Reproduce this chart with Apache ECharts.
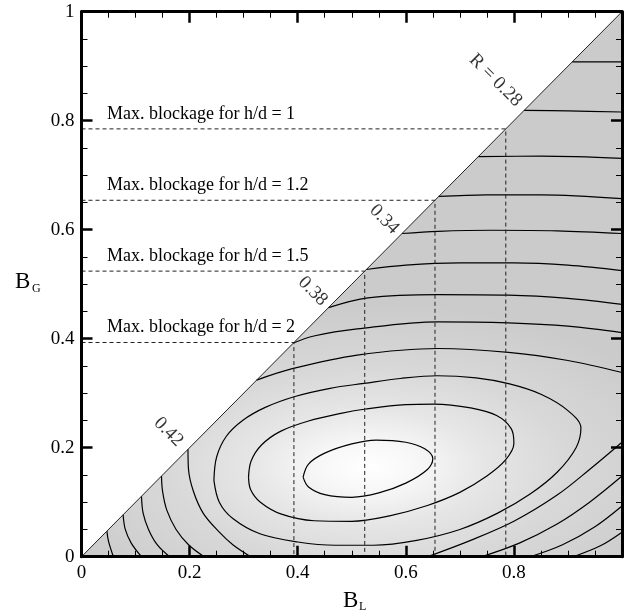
<!DOCTYPE html>
<html>
<head>
<meta charset="utf-8">
<script src="https://cdn.jsdelivr.net/npm/echarts@6/dist/echarts.min.js"></script>
<style>
html, body { margin: 0; padding: 0; background: #fff; }
#chart { width: 625px; height: 610px; }
</style>
</head>
<body>
<div id="chart"></div>
<script>
// Police serif (style Times) comme sur la figure d'origine
const FONT = "'Liberation Serif', 'Times New Roman', serif";

// Blocage maximal pour chaque h/d
const blockageRatios = ['1', '1.2', '1.5', '2'];
const maxBlockage = [0.785, 0.654, 0.524, 0.393];

// Lignes de contour de R, points [B_L, B_G]
const contour026 = [[0.908, 0.908], [1, 0.908]];
const contour028 = [[0.819, 0.819], [0.9, 0.818], [1, 0.816]];
const contour030 = [[0.734, 0.734], [0.85, 0.735], [1, 0.731]];
const contour032 = [[0.661, 0.661], [0.75, 0.664], [0.85, 0.664], [1, 0.657]];
const contour034 = [[0.593, 0.593], [0.66, 0.597], [0.76, 0.599], [0.88, 0.598], [1, 0.593]];
const contour036 = [[0.527, 0.527], [0.6, 0.535], [0.7, 0.539], [0.8, 0.539], [0.9, 0.535], [1, 0.525]];
const contour038 = [[0.457, 0.457], [0.53, 0.475], [0.66, 0.481], [0.79, 0.48], [0.9, 0.474], [1, 0.463]];
const contour040 = [[0.392, 0.392], [0.43, 0.405], [0.51, 0.418], [0.66, 0.431], [0.79, 0.429], [0.9, 0.423], [1, 0.411]];
const contour042 = [[0.324, 0.324], [0.39, 0.345], [0.51, 0.37], [0.66, 0.382], [0.79, 0.375], [0.9, 0.36], [1, 0.338]];
// Coin inférieur gauche (près de l'origine)
const corner034 = [[0.047, 0.047], [0.05, 0.028], [0.059, 0]];
const corner036 = [[0.077, 0.077], [0.081, 0.05], [0.092, 0.025], [0.111, 0]];
const corner038 = [[0.111, 0.111], [0.114, 0.08], [0.124, 0.05], [0.14, 0.022], [0.163, 0]];
const corner040 = [[0.148, 0.148], [0.15, 0.12], [0.158, 0.085], [0.175, 0.05], [0.198, 0.022], [0.227, 0]];
const corner042 = [[0.197, 0.197], [0.198, 0.16], [0.207, 0.12], [0.225, 0.08], [0.255, 0.045], [0.28, 0.022], [0.313, 0]];
// Coin inférieur droit
const right042 = [[0.64, 0], [0.72, 0.03], [0.8, 0.065], [0.88, 0.113], [0.94, 0.16], [1, 0.21]];
const right040 = [[0.74, 0], [0.81, 0.025], [0.88, 0.06], [0.94, 0.1], [1, 0.148]];
const right038 = [[0.83, 0], [0.89, 0.022], [0.95, 0.055], [1, 0.093]];
const right036 = [[0.91, 0], [0.96, 0.02], [1, 0.045]];
// Contours fermés autour du maximum
const ellipse044 = [[0.245, 0.14], [0.25, 0.183], [0.268, 0.221], [0.298, 0.25], [0.34, 0.274], [0.395, 0.294],
  [0.46, 0.309], [0.523, 0.318], [0.59, 0.327], [0.658, 0.332], [0.73, 0.328], [0.792, 0.317], [0.85, 0.298],
  [0.9, 0.268], [0.924, 0.236], [0.915, 0.2], [0.88, 0.155], [0.83, 0.115], [0.77, 0.08], [0.7, 0.05],
  [0.62, 0.03], [0.54, 0.021], [0.47, 0.021], [0.4, 0.027], [0.33, 0.042], [0.28, 0.07], [0.255, 0.1], [0.245, 0.14]];
const ellipse046 = [[0.309, 0.146], [0.314, 0.176], [0.333, 0.205], [0.368, 0.23], [0.42, 0.249], [0.48, 0.263],
  [0.526, 0.271], [0.6, 0.279], [0.652, 0.28], [0.72, 0.273], [0.768, 0.259], [0.795, 0.235], [0.8, 0.208],
  [0.785, 0.178], [0.75, 0.148], [0.7, 0.118], [0.64, 0.094], [0.57, 0.075], [0.5, 0.065], [0.43, 0.066],
  [0.37, 0.078], [0.331, 0.1], [0.313, 0.123], [0.309, 0.146]];
const ellipse048 = [[0.41, 0.146], [0.42, 0.17], [0.45, 0.19], [0.5, 0.207], [0.545, 0.214], [0.6, 0.21],
  [0.635, 0.198], [0.65, 0.18], [0.64, 0.16], [0.6, 0.135], [0.55, 0.117], [0.5, 0.109], [0.45, 0.114],
  [0.42, 0.128], [0.41, 0.146]];

const contours = [contour026, contour028, contour030, contour032, contour034, contour036,
  contour038, contour040, contour042, corner034, corner036, corner038, corner040, corner042,
  right042, right040, right038, right036, ellipse044, ellipse046, ellipse048];

// Étiquettes des niveaux
const levelLabels = ['R = 0.28', '0.34', '0.38', '0.42'];

// Mise en page (pixels)
const GRID = { left: 81.5, top: 11.7, width: 545, height: 545 };
const levelLabelAt = [[0.766, 0.874], [0.56, 0.619], [0.428, 0.487], [0.161, 0.229]];
const shadeCenter = [0.53, 0.165];
const shadeRadius = [0.62, 0.3];

var chartDom = document.getElementById('chart');
var myChart = echarts.init(chartDom);

function tickText(v) {
  if (v === 0) return '0';
  if (v === 1) return '1';
  return v.toFixed(1);
}

function makeAxis(pos, showLabel) {
  return {
    type: 'value', position: pos, min: 0, max: 1, interval: 0.2, z: 10,
    axisLine: { show: true, onZero: false, lineStyle: { color: '#000', width: 3 } },
    axisTick: { show: true, inside: true, length: 11, lineStyle: { color: '#000', width: 2.5 } },
    minorTick: { show: true, splitNumber: 4, length: 6, lineStyle: { color: '#000', width: 1 } },
    splitLine: { show: false },
    axisLabel: {
      show: showLabel, margin: 7, color: '#000', fontFamily: FONT, fontSize: 19,
      formatter: function (v) { return (pos === 'bottom' && v === 1) ? '' : tickText(v); }
    }
  };
}

// Fond gris : dégradé radial elliptique centré sur le maximum de R
function renderShade(params, api) {
  const c = api.coord(shadeCenter);
  const rx = api.size([shadeRadius[0], 0])[0];
  const ry = api.size([0, shadeRadius[1]])[1];
  const k = ry / rx;
  const pts = [[0, 0], [1, 1], [1, 0]].map(function (p) {
    const q = api.coord(p);
    return [q[0] - c[0], (q[1] - c[1]) / k];
  });
  return {
    type: 'polygon', x: c[0], y: c[1], scaleX: 1, scaleY: k,
    shape: { points: pts },
    style: {
      fill: {
        type: 'radial', x: 0, y: 0, r: rx, global: true,
        colorStops: [
          { offset: 0, color: '#ffffff' },
          { offset: 0.15, color: '#f7f7f7' },
          { offset: 0.35, color: '#e6e6e6' },
          { offset: 0.6, color: '#d8d8d8' },
          { offset: 1, color: '#cbcbcb' }
        ]
      },
      stroke: null
    }
  };
}

const series = [];
series.push({ type: 'custom', renderItem: renderShade, data: [[0, 0]], clip: false, silent: true, z: 1 });

contours.forEach(function (pts) {
  series.push({
    type: 'line', data: pts, showSymbol: false, smooth: 0.35, silent: true, z: 3,
    lineStyle: { color: '#000', width: 1.2 }
  });
});

// Diagonale B_G = B_L
series.push({
  type: 'line', data: [[0, 0], [1, 1]], showSymbol: false, silent: true, z: 4,
  lineStyle: { color: '#222', width: 1 }
});

// Lignes pointillées du blocage maximal
maxBlockage.forEach(function (b) {
  series.push({
    type: 'line', data: [[0, b], [b, b], [b, 0]], showSymbol: false, silent: true, z: 5,
    lineStyle: { color: '#222', width: 1, type: [4, 3] }
  });
});

// Étiquettes des contours
series.push({
  type: 'scatter', symbolSize: 0, silent: true, z: 6,
  data: levelLabels.map(function (t, i) { return { name: t, value: levelLabelAt[i] }; }),
  label: {
    show: true, position: 'inside', rotate: -45, color: '#000',
    fontFamily: FONT, fontSize: 19, formatter: function (p) { return p.name; }
  }
});

// Textes "Max. blockage" au-dessus des lignes pointillées
const graphics = blockageRatios.map(function (r, i) {
  return {
    type: 'text', left: 107, top: GRID.top + (1 - maxBlockage[i]) * GRID.height - 24,
    style: { text: 'Max. blockage for h/d = ' + r, font: '18px ' + FONT, fill: '#000' }
  };
});
graphics.push({ type: 'text', left: 343, top: 589, style: { text: 'B', font: '23px ' + FONT, fill: '#000' } });
graphics.push({ type: 'text', left: 359, top: 601, style: { text: 'L', font: '12px ' + FONT, fill: '#000' } });
graphics.push({ type: 'text', left: 15, top: 270, style: { text: 'B', font: '23px ' + FONT, fill: '#000' } });
graphics.push({ type: 'text', left: 32, top: 283, style: { text: 'G', font: '12px ' + FONT, fill: '#000' } });

var option = {
  animation: false,
  backgroundColor: '#fff',
  grid: GRID,
  xAxis: [makeAxis('bottom', true), makeAxis('top', false)],
  yAxis: [makeAxis('left', true), makeAxis('right', false)],
  series: series,
  graphic: graphics
};

myChart.setOption(option);
</script>
</body>
</html>
